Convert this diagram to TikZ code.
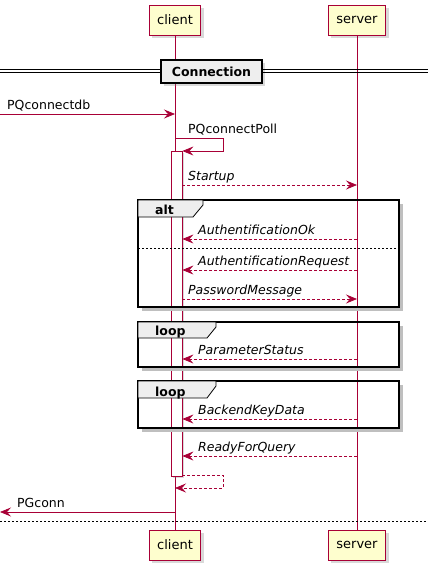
\documentclass[tikz,border=0pt]{standalone}
\usepackage{fontspec}
\setmainfont{DejaVu Sans}
\usetikzlibrary{math,arrows.meta,shadows}
\definecolor{umlred}{HTML}{A80036}
\definecolor{umlbox}{HTML}{FEFECE}
\definecolor{umlgrey}{HTML}{EEEEEE}
\tikzset{
  actor/.style={draw=umlred, fill=umlbox, line width=1pt, minimum height=30pt, inner xsep=8pt,
    font=\fontsize{13}{15}\selectfont,
    drop shadow={shadow xshift=3pt, shadow yshift=-3pt, opacity=0.3}},
  life/.style={draw=umlred, line width=0.8pt},
  activ/.style={draw=umlred, fill=white, line width=0.8pt, inner sep=0pt, minimum width=11pt,
    drop shadow={shadow xshift=2pt, shadow yshift=-2pt, opacity=0.3}},
  msg/.style={draw=umlred, line width=0.8pt, -{Stealth[length=11pt,width=9pt,inset=4pt]}},
  reply/.style={msg, dash pattern=on 3pt off 2pt},
  lbl/.style={anchor=base west, inner sep=0pt, font=\fontsize{12.5}{14}\selectfont},
  ilbl/.style={anchor=base west, inner sep=0pt, font=\fontsize{12.5}{14}\selectfont\itshape},
  frame/.style={draw=black, line width=1.6pt},
  frameshadow/.style={draw=black!25, line width=3pt},
  tab/.style={fill=umlgrey, draw=black, line width=0.8pt},
  tablbl/.style={anchor=base west, inner sep=0pt, font=\fontsize{12.5}{14}\selectfont\bfseries},
  divline/.style={draw=black, line width=0.8pt},
}

\begin{document}
\begin{tikzpicture}[x=1pt, y=-1pt]
  \tikzmath{\cx = 175; \sx = 357; \fl = 138; \fr = 399;}
  \useasboundingbox (0,0) rectangle (428,573);

  % participants
  \node[actor] (client) at (\cx,20) {client};
  \node[actor] (server) at (\sx,20) {server};
  \node[actor] (clientB) at (\cx,545) {client};
  \node[actor] (serverB) at (\sx,545) {server};
  \draw[life] (client) -- (clientB);
  \draw[life] (server) -- (serverB);

  % activation of client
  \node[activ, minimum height=325pt] (act) at (176.5,313.5) {};

  % frames
  \draw[frameshadow] (\fr+2.5,204) -- (\fr+2.5,309.5) -- (\fl+4,309.5);
  \draw[frame] (\fl,200) rectangle (\fr,307);
  \draw[tab] (\fl,200) -- (203,200) -- (203,205) -- (193,217) -- (\fl,217) -- cycle;
  \node[tablbl] (alt) at (155,214) {alt};
  \draw[line width=0.6pt, dash pattern=on 2pt off 2pt] (\fl,248) -- (\fr,248);

  \draw[frameshadow] (\fr+2.5,326) -- (\fr+2.5,369.5) -- (\fl+4,369.5);
  \draw[frame] (\fl,322) rectangle (\fr,367);
  \draw[tab] (\fl,322) -- (216,322) -- (216,327) -- (207,338) -- (\fl,338) -- cycle;
  \node[tablbl] (loopA) at (155,335) {loop};

  \draw[frameshadow] (\fr+2.5,385) -- (\fr+2.5,430.5) -- (\fl+4,430.5);
  \draw[frame] (\fl,381) rectangle (\fr,428);
  \draw[tab] (\fl,381) -- (216,381) -- (216,386) -- (207,398) -- (\fl,398) -- cycle;
  \node[tablbl] (loopB) at (155,396) {loop};

  % messages
  \coordinate (inL) at (0,114);
  \coordinate (c0) at (\cx,114);
  \draw[msg] (inL) -- (c0);
  \node[lbl] (m0) at (7,109) {PQconnectdb};

  \coordinate (p0) at (\cx,138);
  \coordinate (p1) at (223,138);
  \coordinate (p2) at (223,151);
  \draw[msg] (p0) -- (p1) -- (p2) -- (act.east |- p2);
  \node[lbl] (m1) at (188,133) {PQconnectPoll};

  \coordinate (s1) at (\sx,185);
  \draw[reply] (act.east |- s1) -- (s1);
  \node[ilbl] (m2) at (188,180) {Startup};

  \coordinate (s2) at (\sx,239);
  \draw[reply] (s2) -- (act.east |- s2);
  \node[ilbl] (m3) at (198,234) {AuthentificationOk};

  \coordinate (s3) at (\sx,270);
  \draw[reply] (s3) -- (act.east |- s3);
  \node[ilbl] (m4) at (198,265) {AuthentificationRequest};

  \coordinate (s4) at (\sx,299);
  \draw[reply] (act.east |- s4) -- (s4);
  \node[ilbl] (m5) at (188,294) {PasswordMessage};

  \coordinate (s5) at (\sx,359);
  \draw[reply] (s5) -- (act.east |- s5);
  \node[ilbl] (m6) at (198,354) {ParameterStatus};

  \coordinate (s6) at (\sx,419);
  \draw[reply] (s6) -- (act.east |- s6);
  \node[ilbl] (m7) at (198,414) {BackendKeyData};

  \coordinate (s7) at (\sx,456);
  \draw[reply] (s7) -- (act.east |- s7);
  \node[ilbl] (m8) at (198,451) {ReadyForQuery};

  \coordinate (r1) at (223,475);
  \coordinate (r2) at (223,488);
  \coordinate (r3) at (\cx,488);
  \draw[reply] (act.east |- r1) -- (r1) -- (r2) -- (r3);

  \coordinate (c9) at (\cx,512);
  \coordinate (outL) at (0,512);
  \draw[msg] (c9) -- (outL);
  \node[lbl] (m9) at (17,507) {PGconn};

  % dividers
  \node[draw=black, fill=umlgrey, line width=1.6pt, minimum width=101pt, minimum height=23pt,
    inner sep=0pt, font=\fontsize{12.5}{14}\selectfont\bfseries,
    drop shadow={shadow xshift=3pt, shadow yshift=-3pt, opacity=0.3}] (conn) at (211.5,71.5) {Connection};
  \draw[divline] (0,69.8) -- (conn.west |- 0,69.8);
  \draw[divline] (0,72.8) -- (conn.west |- 0,72.8);
  \draw[divline] (conn.east |- 0,69.8) -- (428,69.8);
  \draw[divline] (conn.east |- 0,72.8) -- (428,72.8);
  \draw[line width=0.6pt, dash pattern=on 2pt off 2pt] (0,521) -- (428,521);
\end{tikzpicture}
\end{document}
